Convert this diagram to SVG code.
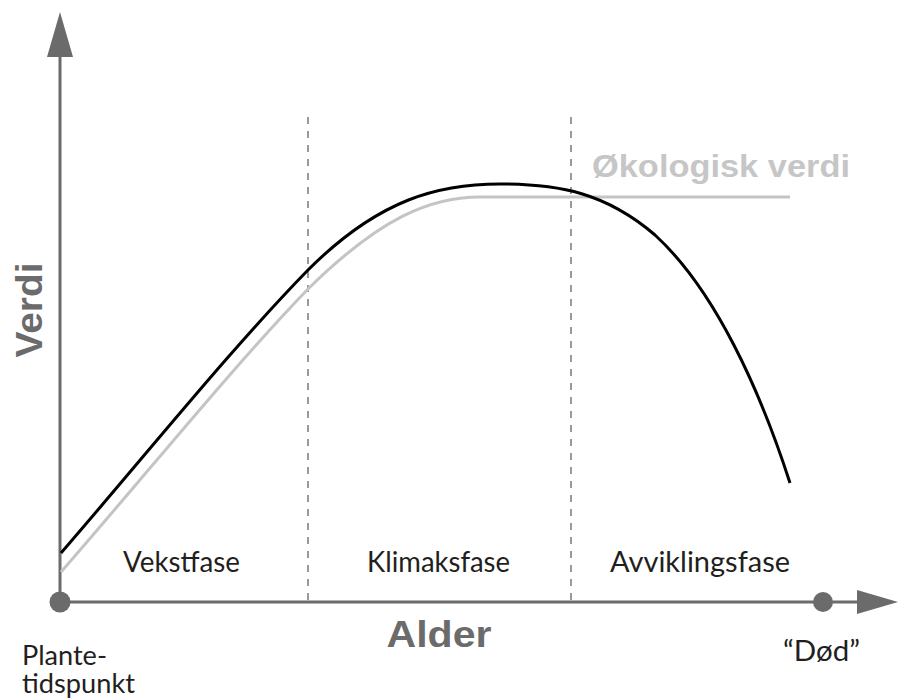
<svg xmlns="http://www.w3.org/2000/svg" width="899" height="700" viewBox="0 0 899 700">
<style>
.axis{stroke:#6b6b6b;stroke-width:3;fill:none}
.ahead{fill:#6b6b6b}
.dash{stroke:#9a9a9a;stroke-width:2;stroke-dasharray:7 7;fill:none}
.phase{font-family:Lato,"Liberation Sans",sans-serif;font-size:28px;font-weight:400;fill:#231f20}
.small{font-size:27px}
.axlabel{font-family:"Liberation Sans",Arial,sans-serif;font-weight:bold;font-size:37px;fill:#6b6b6b}
</style>
<rect width="899" height="700" fill="#ffffff"/>
<g id="connectors">
<line class="axis" x1="60" y1="603" x2="60" y2="50"/>
<polygon class="ahead" points="60,12 47,57 73,57"/>
<line class="axis" x1="60" y1="602" x2="862" y2="602"/>
<polygon class="ahead" points="898,602 857,590 857,614"/>
<line class="dash" x1="308" y1="117" x2="308" y2="603"/>
<line class="dash" x1="571" y1="117" x2="571" y2="603"/>
<path d="M61,572 C150,470 230,370 308,289 C380,218 430,197 480,197 L790,197" fill="none" stroke="#c4c4c4" stroke-width="3"/>
<path d="M61,553 C150,450 230,350 308,270 C380,198 440,184 500,184 C560,184 606,193 655,235 C715,290 760,390 790,483" fill="none" stroke="#000000" stroke-width="3"/>
</g>
<g id="origin"><circle cx="60" cy="602" r="10.5" fill="#6b6b6b"/></g>
<g id="end"><circle cx="823" cy="602" r="10" fill="#6b6b6b"/></g>
<g id="label-verdi"><text class="axlabel" transform="translate(42,310) rotate(-90)" text-anchor="middle" textLength="95" lengthAdjust="spacingAndGlyphs">Verdi</text></g>
<g id="label-alder"><text class="axlabel" x="439" y="647" text-anchor="middle" textLength="105" lengthAdjust="spacingAndGlyphs">Alder</text></g>
<g id="label-okologisk"><text x="592" y="177" font-family="'Liberation Sans',Arial,sans-serif" font-weight="bold" font-size="31" fill="#c6c6c6" textLength="258" lengthAdjust="spacingAndGlyphs">Økologisk verdi</text></g>
<g id="vekstfase"><text class="phase" x="123" y="572" textLength="117" lengthAdjust="spacingAndGlyphs">Vekstfase</text></g>
<g id="klimaksfase"><text class="phase" x="367" y="572" textLength="143" lengthAdjust="spacingAndGlyphs">Klimaksfase</text></g>
<g id="avviklingsfase"><text class="phase" x="610" y="572" textLength="180" lengthAdjust="spacingAndGlyphs">Avviklingsfase</text></g>
<g id="plantetidspunkt">
<text class="phase small" x="22" y="665" textLength="85" lengthAdjust="spacingAndGlyphs">Plante-</text>
<text class="phase small" x="22" y="693" textLength="113" lengthAdjust="spacingAndGlyphs">tidspunkt</text>
</g>
<g id="dod"><text class="phase" x="783" y="661" textLength="77" lengthAdjust="spacingAndGlyphs">“Død”</text></g>
</svg>
